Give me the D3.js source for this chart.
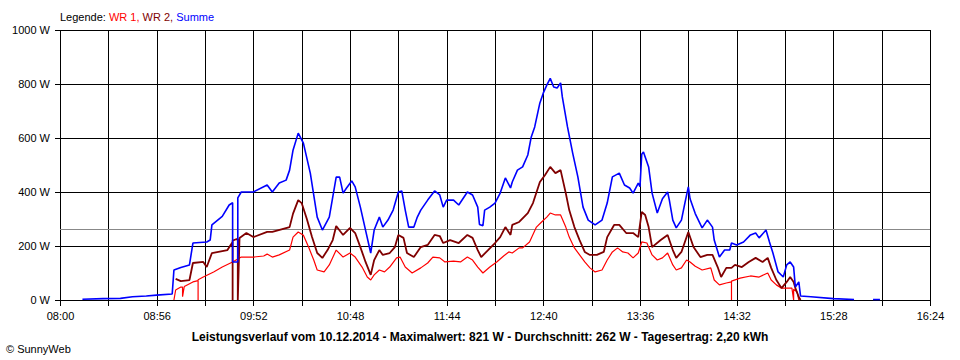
<!DOCTYPE html>
<html><head><meta charset="utf-8">
<script src="https://cdn.jsdelivr.net/npm/d3@7"></script>
<style>
html,body{margin:0;padding:0;background:#fff;}
svg{display:block;font-family:"Liberation Sans",Arial,sans-serif;}
</style></head><body>
<svg id="c" width="960" height="360"></svg>
<script>
// ---- data ----
const gridTimes = ["08:00","08:28","08:56","09:24","09:52","10:20","10:48","11:16","11:44","12:12","12:40","13:08","13:36","14:04","14:32","15:00","15:28","15:56","16:24"];
const xTickLabels = ["08:00","08:56","09:52","10:48","11:44","12:40","13:36","14:32","15:28","16:24"];
const yTickValues = [0,200,400,600,800,1000];
const average = 262;

const sumTimes = ["08:13","08:25","08:35","08:42","08:50","08:56","09:05","09:06","09:10","09:15","09:17","09:25","09:27","09:28","09:34","09:38","09:40","09:40","09:43","09:43","09:45","09:52","10:00","10:03","10:07","10:11","10:13","10:15","10:18","10:21","10:25","10:29","10:32","10:36","10:38","10:40","10:42","10:44","10:46","10:49","10:51","10:54","10:57","11:00","11:02","11:05","11:07","11:10","11:13","11:16","11:18","11:20","11:22","11:25","11:27","11:29","11:33","11:37","11:40","11:42","11:44","11:48","11:51","11:56","11:59","12:02","12:03","12:05","12:06","12:09","12:12","12:15","12:18","12:21","12:22","12:25","12:28","12:31","12:33","12:35","12:38","12:40","12:42","12:44","12:46","12:48","12:50","12:51","12:54","12:57","13:00","13:03","13:06","13:10","13:14","13:17","13:20","13:24","13:27","13:30","13:32","13:35","13:36","13:37","13:38","13:41","13:43","13:46","13:49","13:52","13:53","13:55","13:57","14:00","14:02","14:04","14:05","14:08","14:11","14:12","14:15","14:18","14:19","14:22","14:25","14:28","14:29","14:32","14:36","14:40","14:43","14:45","14:49","14:51","14:53","14:56","14:59","15:01","15:03","15:05","15:06","15:08","15:09","15:15","15:28","15:40","15:41","15:51","15:55"];
const sumValues = [3,5,6,12,15,18,22,111,120,130,211,215,222,278,310,352,360,141,141,378,400,400,426,400,433,444,481,555,618,581,470,307,259,307,381,455,455,396,415,441,419,344,259,174,259,307,270,296,333,400,404,333,270,270,307,333,370,404,389,344,370,370,352,400,389,344,280,275,333,344,359,396,452,415,437,481,493,537,604,641,730,767,796,821,789,785,804,752,641,544,456,344,296,278,296,359,456,470,426,415,396,433,420,540,548,493,396,322,375,400,370,296,267,296,359,419,375,320,280,267,296,270,222,159,185,185,211,204,215,241,248,230,259,215,174,104,85,130,141,122,48,67,15,12,5,2,null,2,2];

const wr2Times = ["09:07","09:10","09:15","09:17","09:23","09:25","09:28","09:37","09:40","09:40","09:40","09:42","09:43","09:43","09:44","09:48","09:52","10:00","10:03","10:13","10:15","10:18","10:20","10:23","10:26","10:29","10:32","10:35","10:38","10:40","10:44","10:48","10:51","10:54","10:57","11:00","11:02","11:05","11:07","11:11","11:14","11:16","11:19","11:21","11:25","11:29","11:33","11:37","11:40","11:42","11:46","11:51","11:56","11:59","12:02","12:04","12:08","12:12","12:15","12:18","12:21","12:22","12:26","12:31","12:34","12:38","12:41","12:44","12:47","12:50","12:53","12:55","12:58","13:01","13:04","13:07","13:11","13:15","13:17","13:21","13:24","13:28","13:32","13:35","13:37","13:39","13:41","13:43","13:48","13:52","13:55","13:57","14:00","14:04","14:07","14:11","14:15","14:18","14:21","14:23","14:26","14:29","14:31","14:35","14:39","14:43","14:47","14:50","14:52","14:55","14:58","15:01","15:03","15:05","15:06","15:08","15:09"];
const wr2Values = [78,70,74,137,141,122,174,185,215,0,220,225,225,0,230,248,233,252,252,270,320,370,359,300,233,174,156,185,222,274,241,267,248,196,141,93,148,185,167,174,196,241,230,174,159,196,204,241,237,211,222,211,241,230,185,159,185,211,233,270,241,278,289,322,359,437,463,493,470,481,396,333,270,222,178,167,167,178,233,278,278,248,248,233,326,315,270,196,222,241,185,156,178,252,196,159,167,167,122,85,119,119,130,122,141,156,141,156,119,74,44,67,85,67,44,11,0];

const wr1Times = ["09:06","09:07","09:10","09:11","09:11","09:12","09:17","09:20","09:20","09:20","09:23","09:29","09:34","09:40","09:45","09:52","09:58","10:00","10:03","10:07","10:13","10:15","10:18","10:21","10:24","10:27","10:29","10:33","10:36","10:40","10:44","10:48","10:51","10:55","10:58","11:00","11:02","11:05","11:08","11:11","11:15","11:17","11:20","11:24","11:29","11:33","11:36","11:40","11:43","11:48","11:52","11:56","11:59","12:02","12:05","12:09","12:13","12:17","12:20","12:22","12:26","12:28","12:32","12:36","12:39","12:42","12:44","12:47","12:50","12:53","12:55","12:58","13:01","13:04","13:07","13:10","13:14","13:17","13:20","13:23","13:26","13:29","13:32","13:35","13:37","13:40","13:43","13:46","13:49","13:52","13:55","13:57","14:00","14:03","14:05","14:08","14:12","14:17","14:19","14:22","14:26","14:29","14:29","14:29","14:34","14:40","14:45","14:50","14:52","14:55","14:58","15:04","15:05","15:05","15:07","15:08"];
const wr1Values = [0,37,48,48,12,50,67,72,0,75,85,104,122,141,159,159,163,170,159,167,185,233,252,240,196,148,111,104,130,185,159,174,159,122,85,74,93,111,104,122,156,159,122,100,119,137,159,156,141,144,141,159,148,122,100,122,141,163,178,174,193,193,215,270,289,307,322,315,315,270,233,193,167,141,119,104,111,148,178,193,178,174,156,174,215,211,167,148,156,174,130,111,119,148,141,125,111,119,74,56,63,67,0,70,81,89,85,100,74,56,44,44,0,40,30,0];

const titleText = "Leistungsverlauf vom 10.12.2014 - Maximalwert: 821 W - Durchschnitt: 262 W - Tagesertrag: 2,20 kWh";

// ---- chart ----
const toMin = s => { const [h,m] = s.split(":").map(Number); return h*60+m; };
const svg = d3.select("#c");
const x = d3.scaleLinear().domain([toMin("08:00"), toMin("16:24")]).range([60, 930]);
const y = d3.scaleLinear().domain([0, 1000]).range([300, 30]);

const g = svg.append("g");
// grid
g.selectAll(".vg").data(gridTimes).join("line")
  .attr("x1", d => Math.round(x(toMin(d))) + 0.5).attr("x2", d => Math.round(x(toMin(d))) + 0.5)
  .attr("y1", y(1000)).attr("y2", y(0) + 6)
  .attr("stroke", "#000").attr("stroke-width", 1).attr("shape-rendering", "crispEdges");
g.selectAll(".hg").data(yTickValues).join("line")
  .attr("x1", 55).attr("x2", 930)
  .attr("y1", d => Math.round(y(d)) + 0.5).attr("y2", d => Math.round(y(d)) + 0.5)
  .attr("stroke", "#000").attr("stroke-width", 1).attr("shape-rendering", "crispEdges");

// average line
g.append("line").attr("x1", 60).attr("x2", 930)
  .attr("y1", Math.round(y(average)) + 0.5).attr("y2", Math.round(y(average)) + 0.5)
  .attr("stroke", "#888").attr("stroke-width", 1).attr("shape-rendering", "crispEdges");

// axes labels
const xAxis = d3.axisBottom(x).tickValues(xTickLabels.map(toMin)).tickSize(0).tickPadding(12)
  .tickFormat((d, i) => xTickLabels[i]);
const xa = svg.append("g").attr("transform", "translate(0,300)").call(xAxis);
xa.select(".domain").remove();
xa.selectAll("text").attr("font-size", 11).attr("fill", "#000").attr("font-family", "Liberation Sans, Arial, sans-serif");

const yAxis = d3.axisLeft(y).tickValues(yTickValues).tickSize(0).tickPadding(10).tickFormat(d => d + " W");
const ya = svg.append("g").attr("transform", "translate(60,0)").call(yAxis);
ya.select(".domain").remove();
ya.selectAll("text").attr("font-size", 11).attr("fill", "#000").attr("font-family", "Liberation Sans, Arial, sans-serif");

// series
function series(times, values, color, w) {
  const pts = times.map((t, i) => ({t: toMin(t), v: values[i]}));
  const line = d3.line().defined(d => d.v !== null).x(d => x(d.t)).y(d => y(d.v));
  svg.append("path").datum(pts).attr("d", line).attr("fill", "none")
    .attr("stroke", color).attr("stroke-width", w).attr("stroke-linejoin", "bevel");
}
series(wr1Times, wr1Values, "#ff0000", 1.2);
series(wr2Times, wr2Values, "#800000", 1.8);
series(sumTimes, sumValues, "#0000ff", 1.6);

// legend
const leg = svg.append("text").attr("x", 60).attr("y", 21).attr("font-size", 11);
leg.append("tspan").attr("fill", "#000").text("Legende: ");
leg.append("tspan").attr("fill", "#ff0000").text("WR 1, ");
leg.append("tspan").attr("fill", "#800000").text("WR 2, ");
leg.append("tspan").attr("fill", "#0000ff").text("Summe");

// title & credit
svg.append("text").attr("x", 480).attr("y", 341).attr("text-anchor", "middle")
  .attr("font-size", 12).attr("font-weight", "bold").text(titleText);
svg.append("text").attr("x", 6).attr("y", 353).attr("font-size", 11).text("\u00A9 SunnyWeb");
</script>
</body></html>
